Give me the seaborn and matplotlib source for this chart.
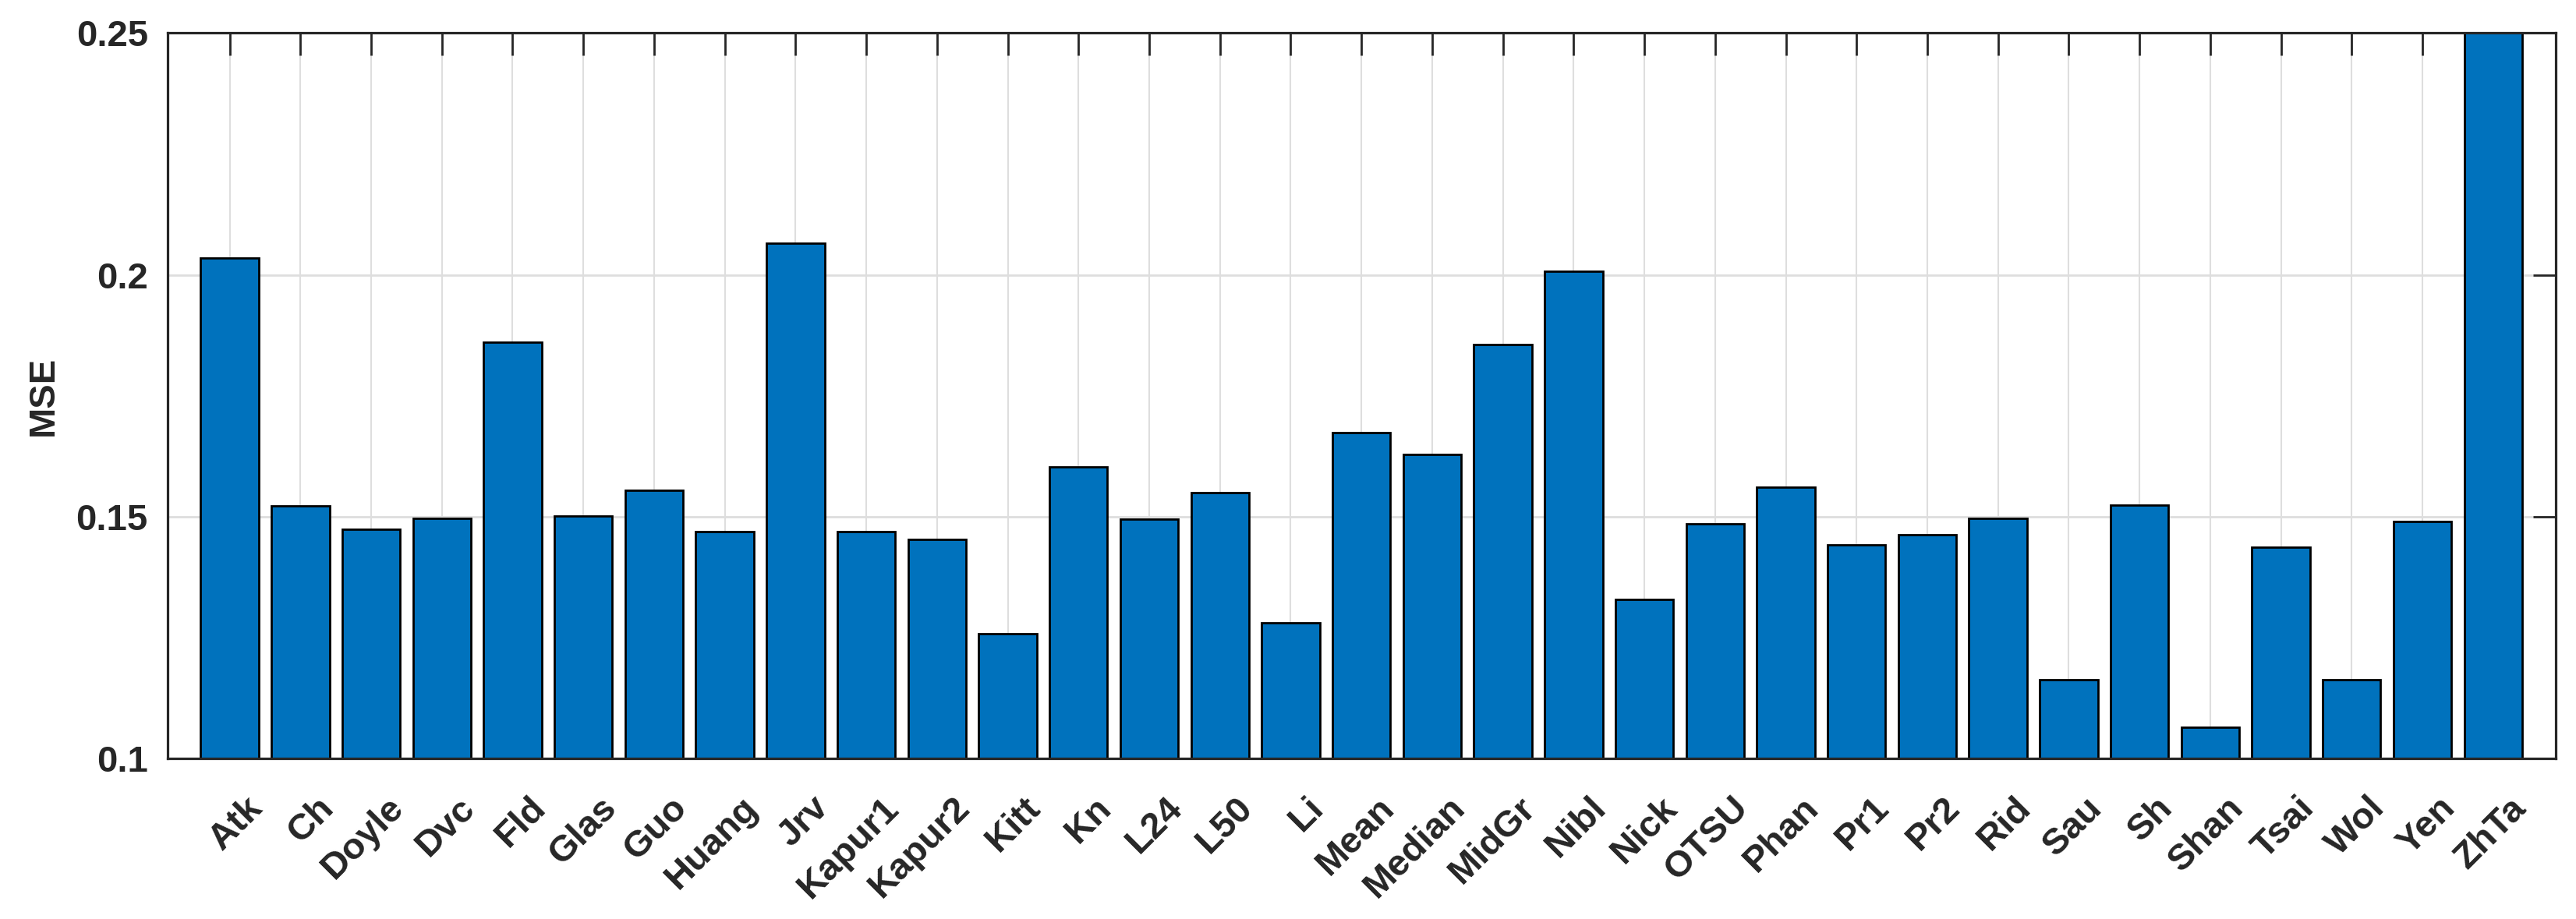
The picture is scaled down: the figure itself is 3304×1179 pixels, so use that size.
import numpy as np
import pandas as pd
import matplotlib
matplotlib.use("Agg")
import matplotlib.pyplot as plt
import matplotlib.transforms as mtransforms
import seaborn as sns

# Methods and their MSE
methods = ["Atk", "Ch", "Doyle", "Dvc", "Fld", "Glas", "Guo", "Huang", "Jrv",
           "Kapur1", "Kapur2", "Kitt", "Kn", "L24", "L50", "Li", "Mean",
           "Median", "MidGr", "Nibl", "Nick", "OTSU", "Phan", "Pr1", "Pr2",
           "Rid", "Sau", "Sh", "Shan", "Tsai", "Wol", "Yen", "ZhTa"]
mse = [0.2034, 0.1522, 0.1473, 0.1496, 0.1861, 0.1501, 0.1554, 0.1468, 0.2066,
       0.1468, 0.1452, 0.1258, 0.1602, 0.1495, 0.1549, 0.1280, 0.1673,
       0.1629, 0.1855, 0.2007, 0.1328, 0.1485, 0.1560, 0.1441, 0.1463,
       0.1496, 0.1162, 0.1523, 0.1064, 0.1436, 0.1162, 0.1489, 0.2700]
y_ticks = [0.1, 0.15, 0.2, 0.25]
y_tick_labels = ["0.1", "0.15", "0.2", "0.25"]

df = pd.DataFrame({"method": methods, "mse": mse})

sns.set_style("white")
plt.rcParams["font.family"] = ["Liberation Sans", "DejaVu Sans"]
plt.rcParams["font.weight"] = "bold"

fig = plt.figure(figsize=(33.04, 11.79), dpi=100)
ax = fig.add_axes([0.065, 0.175, 0.927, 0.789])

blue = "#0072BD"
grid_c = "#dedede"

# grid behind the bars, ticks on top
for y in y_ticks:
    ax.axhline(y, color=grid_c, lw=2, zorder=0)
for i in range(len(methods)):
    ax.axvline(i, color=grid_c, lw=1.5, zorder=0)

sns.barplot(data=df, x="method", y="mse", color=blue, saturation=1,
            edgecolor="black", linewidth=2.0, width=0.82, ax=ax, zorder=1)

ax.set_ylim(0.1, 0.25)
ax.set_xlim(-0.88, len(methods) - 1 + 0.88)
ax.set_yticks(y_ticks)
ax.set_yticklabels(y_tick_labels)
ax.set_xticks(range(len(methods)))
ax.set_xticklabels(methods, rotation=45, ha="right", rotation_mode="anchor")

ax.tick_params(axis="both", direction="in", length=21, width=2, color="#262626",
               top=True, right=True, labelsize=34, labelcolor="#262626")
ax.tick_params(axis="y", pad=18)
ax.tick_params(axis="x", pad=30)
offset = mtransforms.ScaledTranslation(0.2, 0, fig.dpi_scale_trans)
for lab in ax.get_xticklabels():
    lab.set_transform(lab.get_transform() + offset)
    lab.set_fontweight("bold")
for lab in ax.get_yticklabels():
    lab.set_fontweight("bold")

for s in ax.spines.values():
    s.set_visible(True)
    s.set_linewidth(2.3)
    s.set_color("#262626")
    s.set_zorder(3)

ax.set_xlabel("")
ax.set_ylabel("MSE", fontsize=34, fontweight="bold", color="#262626", labelpad=14)

fig.savefig("out.png", dpi=100, facecolor="white")
